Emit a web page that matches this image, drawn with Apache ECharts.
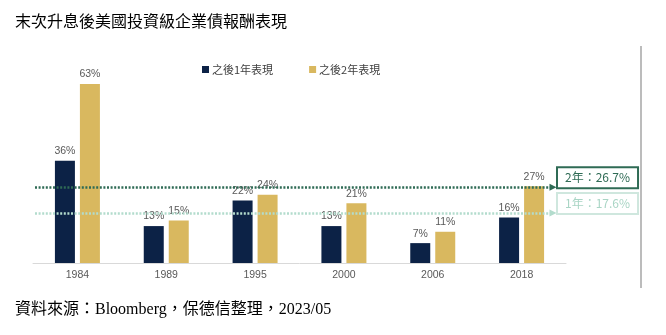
<!DOCTYPE html>
<html>
<head>
<meta charset="utf-8">
<script src="https://cdn.jsdelivr.net/npm/echarts@6/dist/echarts.min.js"></script>
<style>html,body{margin:0;padding:0;background:#fff;}#c{width:666px;height:335px;}</style>
</head>
<body>
<div id="c"></div>
<script>
var categories = ['1984', '1989', '1995', '2000', '2006', '2018'];
var seriesNames = ['之後1年表現', '之後2年表現'];
var oneYear = [36, 13, 22, 13, 7, 16];
var twoYear = [63, 15, 24, 21, 11, 27];
var avgTwoYear = 26.7;
var avgOneYear = 17.6;
var titleText = '末次升息後美國投資級企業債報酬表現';
var sourceText = '資料來源：Bloomberg，保德信整理，2023/05';

var chart = echarts.init(document.getElementById('c'), null, {renderer: 'canvas'});
var narrow = "'Liberation Sans Narrow','Arial Narrow','Liberation Sans',sans-serif";
var cjk = "'Noto Sans CJK TC','Noto Sans',sans-serif";

function refLine(value, name, color, borderColor, textColor) {
  return {
    silent: true,
    symbol: ['none', 'triangle'],
    symbolSize: 7,
    lineStyle: {color: color, width: 2.5, type: [2, 1.6]},
    label: {
      show: true,
      position: 'end',
      distance: 5,
      verticalAlign: 'bottom',
      formatter: name + '：' + value + '%',
      color: textColor,
      fontFamily: cjk,
      fontSize: 12,
      lineHeight: 15,
      padding: [2, 7, 2, 7],
      borderColor: borderColor,
      borderWidth: 2,
      backgroundColor: '#fff'
    },
    data: [[{yAxis: value, x: 35}, {yAxis: value, x: 553}]]
  };
}

chart.setOption({
  animation: false,
  backgroundColor: '#fff',
  title: [
    {text: titleText, left: 15, top: 13, padding: 0, textStyle: {fontFamily: cjk, fontSize: 16, fontWeight: 'normal', color: '#000'}},
    {text: sourceText, left: 15, top: 302, padding: 0, textStyle: {fontFamily: "'Liberation Serif','Noto Sans CJK TC',serif", fontSize: 16, fontWeight: 'normal', color: '#000'}}
  ],
  legend: {
    data: seriesNames,
    left: 202, top: 64, padding: 0,
    icon: 'rect', itemWidth: 7, itemHeight: 7, itemGap: 36,
    textStyle: {fontFamily: cjk, fontSize: 11, color: '#404040', padding: [0, 0, 0, -2]}
  },
  grid: {left: 33, right: 100, top: 64.2, bottom: 72},
  xAxis: {
    type: 'category', data: categories,
    axisLine: {lineStyle: {color: '#d9d9d9', width: 1}},
    axisTick: {show: false},
    axisLabel: {fontFamily: narrow, fontSize: 10.5, color: '#595959', margin: 7}
  },
  yAxis: {type: 'value', min: 0, max: 70, show: false, splitLine: {show: false}},
  series: [
    {
      name: seriesNames[0], type: 'bar', data: oneYear, barWidth: 20, barGap: '25%',
      itemStyle: {color: '#0c2246'},
      label: {show: true, position: 'top', distance: 4, formatter: '{c}%', fontFamily: narrow, fontSize: 10.5, color: '#595959'},
      markLine: refLine(avgOneYear, '1年', '#b3dccd', '#cfe7de', '#a9d5c5')
    },
    {
      name: seriesNames[1], type: 'bar', data: twoYear, barWidth: 20,
      itemStyle: {color: '#d9b85f'},
      label: {show: true, position: 'top', distance: 4, formatter: '{c}%', fontFamily: narrow, fontSize: 10.5, color: '#595959'},
      markLine: refLine(avgTwoYear, '2年', '#2f6b55', '#2f6b55', '#2f6b55')
    }
  ],
  graphic: [
    {type: 'line', shape: {x1: 641, y1: 46, x2: 641, y2: 288}, style: {stroke: '#a6a6a6', lineWidth: 1.5}, silent: true}
  ]
});
</script>
</body>
</html>
